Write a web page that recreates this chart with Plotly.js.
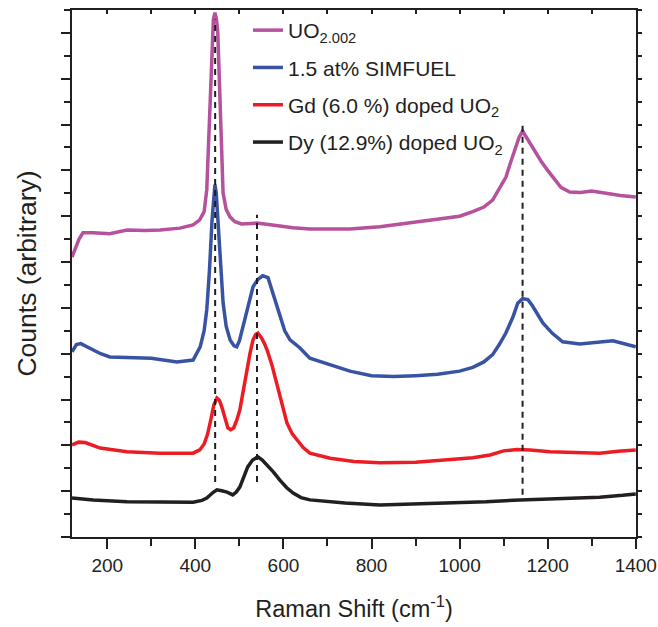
<!DOCTYPE html>
<html>
<head>
<meta charset="utf-8">
<script src="https://cdn.plot.ly/plotly-3.0.1.min.js"></script>
<style>html,body{margin:0;padding:0;background:#fff;}#chart{width:658px;height:627px;}</style>
</head>
<body>
<div id="chart"></div>
<script>
// Raman shift (cm^-1) and counts (arbitrary units, offset traces)
const uoX = [120,128,136,145,168,206,245,286,320,365,395,410,420,426,429,433,435.5,438,441,444.5,448,451,453.5,456,459.5,463,470,479,490,505,540,580,622,660,751,819,910,978,1000,1030,1055,1075,1090,1105,1115,1125,1135,1143,1150,1160,1170,1185,1200,1215,1230,1250,1275,1300,1330,1365,1400];
const uoY = [6.11,6.30,6.50,6.64,6.64,6.62,6.70,6.69,6.70,6.74,6.81,6.92,7.10,7.58,8.40,9.54,10.30,11.00,11.30,11.44,11.30,11.00,10.30,9.54,8.40,7.51,7.15,6.98,6.88,6.83,6.85,6.80,6.75,6.72,6.72,6.77,6.88,6.97,7.00,7.10,7.20,7.35,7.60,7.85,8.15,8.45,8.72,8.86,8.75,8.60,8.42,8.20,8.00,7.80,7.63,7.53,7.52,7.55,7.50,7.45,7.42];

const simX = [120,130,140,155,168,185,206,250,300,358,395,411,420,426,432,438,441.5,444.5,447.5,451,454,458,463,470,479,488,494,500,508,520,531,542,553,565,576,585,592,603,615,637,660,706,751,800,850,900,950,1000,1030,1055,1075,1090,1105,1121,1132,1143,1155,1165,1175,1189,1210,1234,1273,1310,1348,1400];
const simY = [4.04,4.20,4.22,4.15,4.08,4.00,3.93,3.92,3.90,3.82,3.86,4.15,4.50,4.96,5.80,6.92,7.50,7.69,7.50,7.00,6.55,5.80,5.11,4.60,4.30,4.17,4.15,4.28,4.59,5.05,5.46,5.62,5.70,5.66,5.33,5.05,4.80,4.50,4.30,4.13,3.90,3.76,3.62,3.52,3.50,3.52,3.55,3.62,3.70,3.82,3.98,4.20,4.45,4.80,5.10,5.20,5.18,5.05,4.88,4.67,4.45,4.26,4.21,4.25,4.28,4.15];

const gdX = [120,135,150,184,245,320,395,410,420,428,435,442,449,455,460,467,474,480,487,494,501,509,517,524,531,537,542,550,557,563,574,585,597,608,620,631,645,660,706,760,819,900,978,1030,1069,1100,1130,1160,1205,1260,1318,1360,1400];
const gdY = [2.01,2.07,2.06,1.94,1.86,1.83,1.83,1.90,2.03,2.25,2.55,2.88,3.03,2.98,2.84,2.58,2.38,2.34,2.38,2.55,2.77,3.20,3.65,4.00,4.30,4.42,4.45,4.35,4.22,4.08,3.75,3.36,2.92,2.49,2.25,2.12,1.95,1.83,1.72,1.65,1.62,1.63,1.68,1.73,1.79,1.88,1.91,1.90,1.86,1.84,1.83,1.87,1.90];

const dyX = [120,168,245,320,395,415,426,440,449,460,472,485,493,501,510,519,530,542,552,563,577,592,607,622,640,660,740,819,900,978,1060,1137,1230,1318,1370,1400];
const dyY = [0.85,0.81,0.77,0.76,0.76,0.80,0.85,0.97,1.03,1.01,0.98,0.92,0.98,1.09,1.30,1.53,1.68,1.75,1.68,1.57,1.42,1.24,1.08,0.96,0.86,0.81,0.74,0.70,0.72,0.74,0.77,0.81,0.84,0.87,0.91,0.94];

// Peak marker lines (Raman shift, lower and upper counts)
const peakX = [445, 540, 1143];
const peakLow = [1.20, 1.20, 0.92];
const peakHigh = [11.29, 7.03, 9.06];

const names = ['UO<sub>2.002</sub>', '1.5 at% SIMFUEL', 'Gd (6.0 %) doped UO<sub>2</sub>', 'Dy (12.9%) doped UO<sub>2</sub>'];
const colors = ['#b5519d', '#3953a3', '#ec1c24', '#231f20'];

const FONT = 'Liberation Sans, Arial, Helvetica, sans-serif';

const series = [[uoX, uoY], [simX, simY], [gdX, gdY], [dyX, dyY]];
const traces = series.map((s, i) => ({
  x: s[0], y: s[1], type: 'scatter', mode: 'lines', name: names[i],
  legendgroup: 'g' + i,
  line: {color: colors[i], width: 3.5}
}));
peakX.forEach((px, i) => {
  traces.push({
    x: [px, px], y: [peakLow[i], peakHigh[i]], type: 'scatter', mode: 'lines',
    showlegend: false, hoverinfo: 'skip',
    line: {color: '#231f20', width: 2, dash: '6px,5px'}
  });
});

const layout = {
  width: 658, height: 627,
  margin: {l: 72, r: 22, t: 10, b: 90},
  paper_bgcolor: '#fff', plot_bgcolor: '#fff',
  font: {family: FONT, color: '#231f20'},
  showlegend: true,
  legend: {
    x: 0.312, y: 1.0, xanchor: 'left', yanchor: 'top',
    bgcolor: 'rgba(0,0,0,0)', font: {family: FONT, size: 21, color: '#231f20'},
    tracegroupgap: 7
  },
  xaxis: {
    range: [120, 1400.5], dtick: 200, tick0: 0,
    showgrid: false, zeroline: false,
    showline: true, linecolor: '#231f20', linewidth: 2,
    ticks: 'outside', ticklen: 10, tickwidth: 2, tickcolor: '#231f20',
    minor: {dtick: 100, ticks: 'outside', ticklen: 7, tickwidth: 2, tickcolor: '#231f20'},
    tickfont: {family: FONT, size: 19, color: '#231f20'},
    title: {text: 'Raman Shift (cm<sup>-1</sup>)', font: {family: FONT, size: 23.5, color: '#231f20'}, standoff: 26}
  },
  yaxis: {
    range: [0, 11.5], dtick: 1, tick0: 0,
    showgrid: false, zeroline: false,
    showline: true, linecolor: '#231f20', linewidth: 2,
    ticks: 'outside', ticklen: 9, tickwidth: 2, tickcolor: '#231f20',
    minor: {dtick: 0.5, ticks: 'outside', ticklen: 6, tickwidth: 2, tickcolor: '#231f20'},
    showticklabels: false,
    title: {text: 'Counts (arbitrary)', font: {family: FONT, size: 26.5, color: '#231f20'}, standoff: 17}
  },
  xaxis2: {
    overlaying: 'x', side: 'top', range: [120, 1400.5], dtick: 100, tick0: 0,
    showgrid: false, zeroline: false, showline: true, linecolor: '#231f20', linewidth: 2,
    ticks: 'inside', ticklen: 4, tickwidth: 2, tickcolor: '#231f20', showticklabels: false
  },
  yaxis2: {
    overlaying: 'y', side: 'right', range: [0, 11.5], dtick: 0.5, tick0: 0,
    showgrid: false, zeroline: false, showline: true, linecolor: '#231f20', linewidth: 2,
    ticks: 'outside', ticklen: 4, tickwidth: 2, tickcolor: '#231f20', showticklabels: false
  }
};

// invisible helper trace so the mirrored frame axes get drawn
traces.push({x: [120], y: [0], xaxis: 'x2', yaxis: 'y2', type: 'scatter', mode: 'markers',
  marker: {opacity: 0}, showlegend: false, hoverinfo: 'skip'});

Plotly.newPlot('chart', traces, layout, {displayModeBar: false, staticPlot: true});
</script>
</body>
</html>
